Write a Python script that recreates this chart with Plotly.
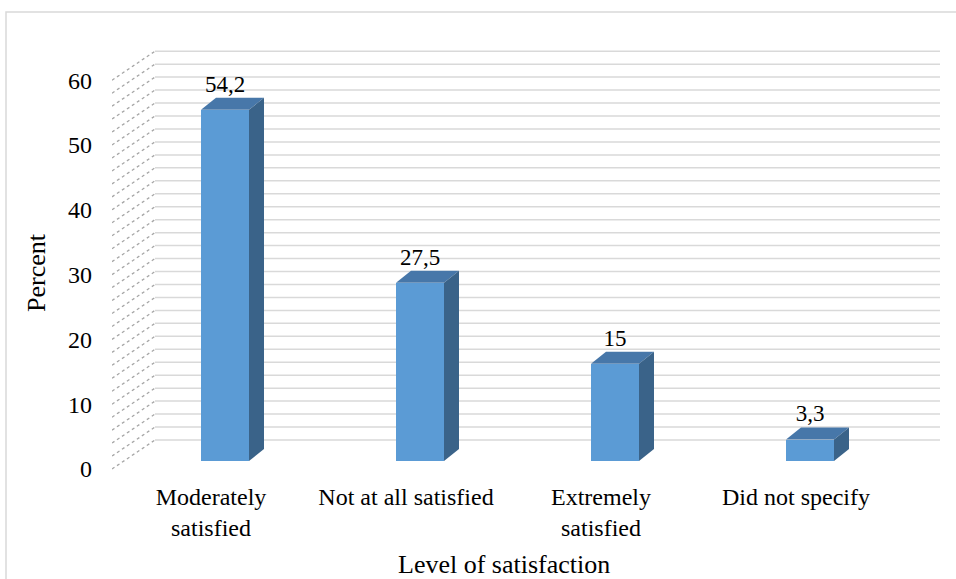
import plotly.graph_objects as go

# ---- data -------------------------------------------------------------
categories = ["Moderately<br>satisfied", "Not at all satisfied",
              "Extremely<br>satisfied", "Did not specify"]
percent = [54.2, 27.5, 15, 3.3]
y_ticks = [0, 10, 20, 30, 40, 50, 60]
grid_step = 2
x_title = "Level of satisfaction"
y_title = "Percent"

# ---- geometry of the pseudo-3D scene (pixels) ---------------------------
W, H = 956, 579
PLOT_L, PLOT_R, PLOT_T, PLOT_B = 112, 945, 40, 475
CAT0_PX, CAT_STEP_PX = 225, 195      # first bar centre, bar spacing
ZERO_PX, UNIT_PX = 461, 6.48          # baseline of bars, px per percent
BAR_W_PX = 48
SIDE_DX_PX, SIDE_DY_PX = 15, 12       # bar depth
BACK_DY_PX, BACK_DX_PX = 21, 29       # bar plane -> back wall
FRONT_DY_PX, FRONT_DX_PX = 8, 14      # bar plane -> front plane
WALL_RIGHT_PX = 940


def ux(px):
    return px / CAT_STEP_PX


def uy(px):
    return px / UNIT_PX


x_of = lambda px: (px - CAT0_PX) / CAT_STEP_PX
paper_x = lambda px: (px - PLOT_L) / (PLOT_R - PLOT_L)
paper_y = lambda py: (PLOT_B - py) / (PLOT_B - PLOT_T)

xpos = list(range(len(categories)))
bw = ux(BAR_W_PX)
sdx, sdy = ux(SIDE_DX_PX), uy(SIDE_DY_PX)

FRONT = "#5B9BD5"
TOP = "#4777A9"
SIDE = "#3A6389"
GRID = "#D9D9D9"
FONT = "Liberation Serif, Times New Roman, serif"

fig = go.Figure()

# back wall and side wall gridlines (drawn beneath the bars)
levels = list(range(0, 61, grid_step))
back_left = x_of(PLOT_L + FRONT_DX_PX + BACK_DX_PX)
back_right = x_of(WALL_RIGHT_PX)
front_left = x_of(PLOT_L)
shapes = []
for v in levels:
    yb = v + uy(BACK_DY_PX)
    yf = v - uy(FRONT_DY_PX)
    shapes.append(dict(type="line", xref="x", yref="y", layer="below",
                       x0=back_left, x1=back_right, y0=yb, y1=yb,
                       line=dict(color=GRID, width=1.5)))
    shapes.append(dict(type="line", xref="x", yref="y", layer="below",
                       x0=front_left, x1=back_left, y0=yf, y1=yb,
                       line=dict(color="#A6A6A6", width=1.3, dash="dot")))

# outer chart border
shapes.append(dict(type="rect", xref="paper", yref="paper", layer="below",
                   x0=paper_x(6), x1=paper_x(W + 10), y0=paper_y(12), y1=paper_y(H + 10),
                   line=dict(color="#D9D9D9", width=1.5)))

# front faces of the bars
fig.add_trace(go.Bar(x=xpos, y=percent, width=bw, marker_color=FRONT,
                     marker_line_width=0, showlegend=False))

# top and side faces
for x, v in zip(xpos, percent):
    l, r = x - bw / 2, x + bw / 2
    fig.add_trace(go.Scatter(
        x=[l, r, r + sdx, l + sdx, l], y=[v, v, v + sdy, v + sdy, v],
        mode="lines", fill="toself", fillcolor=TOP, line=dict(width=0, color=TOP),
        hoverinfo="skip", showlegend=False))
    fig.add_trace(go.Scatter(
        x=[r, r + sdx, r + sdx, r, r], y=[0, sdy, v + sdy, v, 0],
        mode="lines", fill="toself", fillcolor=SIDE, line=dict(width=0, color=SIDE),
        hoverinfo="skip", showlegend=False))

# value labels
fig.add_trace(go.Scatter(
    x=xpos, y=[v + uy(SIDE_DY_PX + 12) for v in percent],
    mode="text", text=[f"{v:g}".replace(".", ",") for v in percent],
    textposition="middle center", textfont=dict(size=23, color="black", family=FONT),
    hoverinfo="skip", showlegend=False, cliponaxis=False))

fig.update_layout(
    width=W, height=H,
    margin=dict(l=PLOT_L, r=W - PLOT_R, t=PLOT_T, b=H - PLOT_B),
    paper_bgcolor="white", plot_bgcolor="white",
    font=dict(family=FONT, size=23, color="black"),
    bargap=0,
    xaxis=dict(range=[x_of(PLOT_L), x_of(PLOT_R)], showgrid=False, zeroline=False,
               showline=False, tickmode="array",
               tickvals=[x - ux(FRONT_DX_PX) for x in xpos], ticktext=categories,
               ticks="", ticklabelstandoff=5, fixedrange=True,
               tickfont=dict(size=24)),
    yaxis=dict(range=[(ZERO_PX - PLOT_B) / UNIT_PX, (ZERO_PX - PLOT_T) / UNIT_PX],
               showgrid=False, zeroline=False, showline=False, tickmode="array",
               tickvals=[t - uy(FRONT_DY_PX) for t in y_ticks],
               ticktext=[str(t) for t in y_ticks],
               ticks="", ticklabelstandoff=19, fixedrange=True,
               tickfont=dict(size=24)),
    annotations=[
        dict(text=x_title, xref="paper", yref="paper", x=paper_x(504), y=paper_y(564),
             showarrow=False, font=dict(size=26), xanchor="center", yanchor="middle"),
        dict(text=y_title, xref="paper", yref="paper", x=paper_x(36), y=paper_y(273),
             showarrow=False, font=dict(size=26), textangle=-90,
             xanchor="center", yanchor="middle"),
    ],
    shapes=shapes,
)

fig.write_html("out.html")
